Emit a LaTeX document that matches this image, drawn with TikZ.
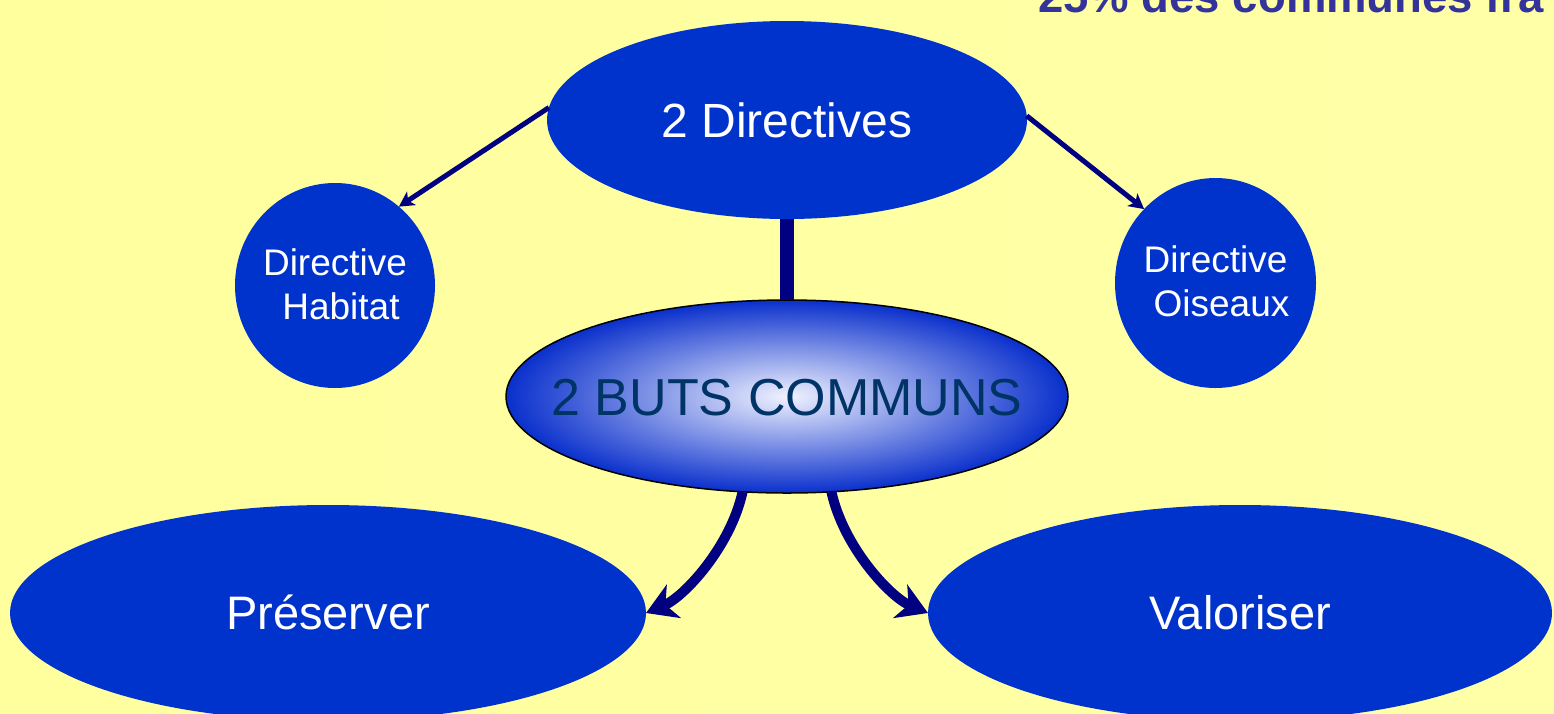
\documentclass[tikz,border=0pt]{standalone}
\usepackage{fontspec}
\setmainfont{Liberation Sans}
\usetikzlibrary{shapes.geometric,arrows.meta}
\definecolor{bgY}{HTML}{FFFF9E}
\definecolor{bgL}{HTML}{FFFFCC}
\definecolor{bgR}{HTML}{FFFFA8}
\definecolor{nodeblue}{HTML}{0033CC}
\definecolor{arrownavy}{HTML}{000080}
\definecolor{titleblue}{HTML}{333399}
\definecolor{butstext}{HTML}{003366}
\definecolor{butsin}{HTML}{F0F2FF}
\definecolor{butsout}{HTML}{0A30CC}
\newcommand\zerobox[2]{\makebox[0pt]{\smash{\raisebox{#1}{\begin{tabular}{@{}c@{}}#2\end{tabular}}}}}
\newcommand\oneline[1]{\makebox[0pt]{\smash{\raisebox{-0.358em}{#1}}}}
\tikzset{
  blueell/.style={ellipse, fill=nodeblue, draw=none, inner sep=0pt, outer sep=0pt, text=white, align=center},
  thinarrow/.style={draw=arrownavy, line width=5pt, -{Stealth[length=15pt,width=16pt,inset=4pt]}},
  thickarrow/.style={draw=arrownavy, line width=10pt, -{Stealth[length=30pt,width=36pt,inset=9pt]}},
  stem/.style={draw=arrownavy, line width=14pt}
}
\begin{document}
\begin{tikzpicture}[x=1pt,y=-1pt]
\useasboundingbox (0,0) rectangle (1554,713);
\clip (0,0) rectangle (1554,713);
\shade[left color=bgY, middle color=bgL, right color=bgR] (0,0) rectangle (1554,713);

\node[anchor=base west, font=\bfseries\fontsize{45.5}{54}\selectfont, text=titleblue, inner sep=0pt] (title) at (1038,12) {25\% des communes fra};

\node[blueell, minimum width=480pt, minimum height=198pt, font=\fontsize{48}{58}\selectfont] (dir) at (787,120) {\oneline{2 Directives}};
\node[blueell, minimum width=200pt, minimum height=205pt, font=\fontsize{37}{44}\selectfont] (hab) at (335,285.5) {\zerobox{-9pt}{Directive\\\hspace*{12pt}Habitat}};
\node[blueell, minimum width=201pt, minimum height=210pt, font=\fontsize{37}{44}\selectfont] (ois) at (1215.5,283) {\zerobox{-9pt}{Directive\\\hspace*{12pt}Oiseaux}};

\node[ellipse, draw=black, line width=1.5pt, inner color=butsin, outer color=butsout, inner sep=0pt, outer sep=0pt, minimum width=562pt, minimum height=193pt, text=butstext, font=\fontsize{52}{62}\selectfont] (buts) at (787,396.5) {\oneline{2 BUTS COMMUNS}};

\draw[stem] (dir.south) -- (buts.north);

\node[blueell, minimum width=636pt, minimum height=216pt, font=\fontsize{47}{56}\selectfont] (pres) at (328,613) {\oneline{Préserver}};
\node[blueell, minimum width=624pt, minimum height=216pt, font=\fontsize{47}{56}\selectfont] (val) at (1240,613) {\oneline{Valoriser}};

\draw[thinarrow] (dir.177) -- (hab.51);
\draw[thinarrow] (dir.1) -- (ois.134);

\draw[thickarrow] (buts.-115) .. controls +(-12,55) and +(38,-16) .. (pres.east);
\draw[thickarrow] (buts.-65) .. controls +(12,55) and +(-38,-16) .. (val.west);
\end{tikzpicture}
\end{document}
